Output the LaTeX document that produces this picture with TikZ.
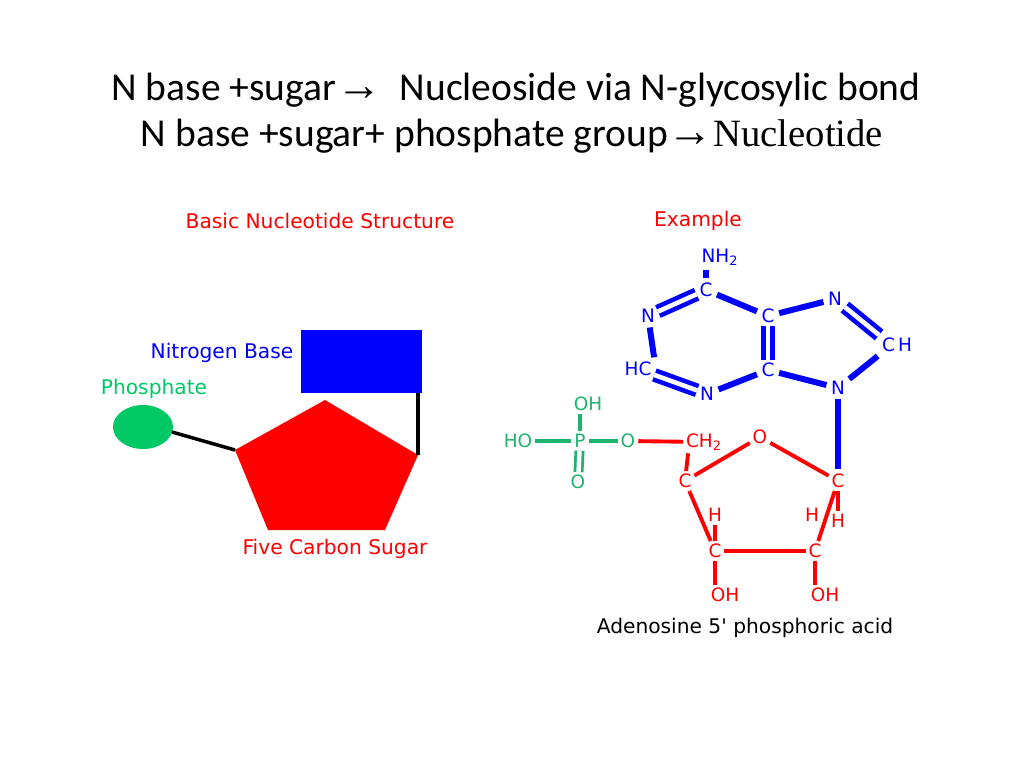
\documentclass[tikz,border=0pt]{standalone}
\usepackage{fontspec}
\setmainfont{Carlito}
\newfontfamily\dejavu{DejaVu Sans}
\newfontfamily\lserif{Liberation Serif}
\definecolor{nblue}{RGB}{0,0,255}
\definecolor{sred}{RGB}{255,0,0}
\definecolor{pgreen}{RGB}{0,200,100}
\definecolor{lgreen}{RGB}{30,180,110}
\begin{document}
\begin{tikzpicture}[x=0.02cm,y=-0.02cm,
  atom/.style={inner sep=1.5pt,font=\dejavu\fontsize{10.5}{12}\selectfont},
  lbl/.style={inner sep=0pt,font=\dejavu\fontsize{11.5}{13}\selectfont},
  bb/.style={nblue,line width=3.4pt,shorten <=1pt,shorten >=1pt},
  bbd/.style={nblue,line width=2.6pt,double=white,double distance=2.6pt},
  rb/.style={sred,line width=2.2pt},
  gb/.style={lgreen,line width=2.2pt}]
\useasboundingbox (0,0) rectangle (1024,768);
% headings
\node (h1) at (516,90) {\fontsize{22.5}{27}\selectfont N base +sugar{\lserif\fontsize{26}{27}\selectfont→}\ \ Nucleoside via N-glycosylic bond};
\node (h2) at (512,136) {\fontsize{22.5}{27}\selectfont N base +sugar+ phosphate group{\lserif\fontsize{26}{27}\selectfont→\fontsize{22}{27}\selectfont Nucleotide}};
% left: basic structure
\node[lbl,sred] (tl) at (320,221) {Basic Nucleotide Structure};
\node[lbl,nblue] (nbt) at (222,353) {Nitrogen Base};
\node[lbl,pgreen] (pht) at (154,389) {Phosphate};
\node[lbl,sred] (sgt) at (335,549) {Five Carbon Sugar};
\fill[nblue] (301,330) rectangle (422,393);
\fill[sred] (325,400) -- (418,455) -- (385,530) -- (268,530) -- (235,450) -- cycle;
\fill[pgreen] (143,427) ellipse (30 and 22);
\draw[line width=2pt] (172,432) -- (235,450);
\draw[line width=2pt] (418,393) -- (418,455);
% right: example
\node[lbl,sred] (te) at (698,221) {Example};
\begin{scope}[nblue]
\node[atom] (nh2) at (720,257) {NH\textsubscript{2}};
\node[atom] (c6) at (706,290) {C};
\node[atom] (n1) at (648,316) {N};
\node[atom] (c5) at (768,316) {C};
\node[atom] (n7) at (835,299) {N};
\node[atom] (c8) at (897,345) {C\,H};
\node[atom] (c2) at (638,369) {HC};
\node[atom] (c4) at (768,370) {C};
\node[atom] (n3) at (707,394) {N};
\node[atom] (n9) at (838,388) {N};
\end{scope}
\draw[bb] (nh2.south -| c6) -- (c6);
\draw[bbd] (c6) -- (n1);
\draw[bb] (c6) -- (c5);
\draw[bb] (c5) -- (n7);
\draw[bbd] (n7) -- (c8.north west);
\draw[bb] (c8.south west) -- (n9);
\draw[bb] (n1) -- (c2.north east);
\draw[bbd] (c5) -- (c4);
\draw[bbd] (c2) -- (n3);
\draw[bb] (n3) -- (c4);
\draw[bb] (c4) -- (n9);
\begin{scope}[lgreen]
\node[atom] (oh) at (588,404) {OH};
\node[atom] (p) at (580,441) {P};
\node[atom] (ho) at (518,441) {HO};
\node[atom] (op) at (628,441) {O};
\node[atom] (od) at (578,482) {O};
\end{scope}
\draw[gb] (ho) -- (p);
\draw[gb] (p) -- (op);
\draw[gb] (p) -- (p |- oh.south);
\draw[gb,double=white,double distance=2.5pt,line width=1.6pt] (p) -- (od);
\begin{scope}[sred]
\node[atom] (ch2) at (704,442) {CH\textsubscript{2}};
\node[atom] (o4) at (760,437) {O};
\node[atom] (c4s) at (685,481) {C};
\node[atom] (c1s) at (838,481) {C};
\node[atom] (h3) at (715,515) {H};
\node[atom] (h2a) at (812,515) {H};
\node[atom] (h1s) at (838,521) {H};
\node[atom] (c3s) at (715,551) {C};
\node[atom] (c2s) at (815,551) {C};
\node[atom] (oh3) at (725,595) {OH};
\node[atom] (oh2) at (825,595) {OH};
\end{scope}
\draw[rb] (op) -- (ch2);
\draw[rb] (ch2.south west) ++(5,0) -- (c4s);
\draw[rb] (c4s) -- (o4);
\draw[rb] (o4) -- (c1s);
\draw[rb] (c4s) -- (c3s);
\draw[rb] (c3s) -- (c2s);
\draw[rb] (c2s) -- (c1s);
\draw[rb] (c1s) -- (h1s);
\draw[rb] (h3) -- (c3s);
\draw[rb] (c3s) -- (c3s |- oh3.north);
\draw[rb] (c2s) -- (c2s |- oh2.north);
\draw[bb] (n9) -- (c1s);
\node[lbl] (cap) at (745,628) {Adenosine 5' phosphoric acid};
\end{tikzpicture}
\end{document}
